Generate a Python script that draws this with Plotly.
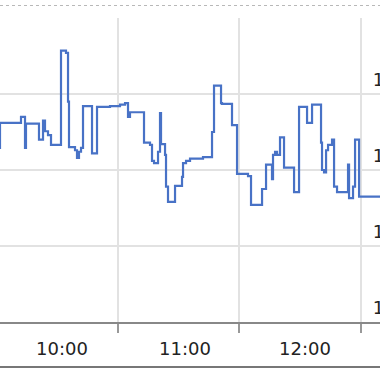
import plotly.graph_objects as go

DAY = "2024-01-01 "

times = [
    "09:59:31", "10:01:59", "10:12:21", "10:14:20", "10:14:49", "10:21:14", "10:23:13",
    "10:24:12", "10:25:41", "10:27:10", "10:32:06", "10:34:34", "10:35:34", "10:36:03",
    "10:39:01", "10:40:00", "10:40:59", "10:41:59", "10:42:58", "10:47:25", "10:49:53",
    "10:56:18", "11:01:14", "11:03:43", "11:05:11", "11:06:10", "11:13:05", "11:16:03",
    "11:17:02", "11:18:02", "11:20:00", "11:20:59", "11:21:29", "11:23:28", "11:23:57",
    "11:24:56", "11:28:24", "11:31:51", "11:32:21", "11:33:50", "11:35:48", "11:42:13",
    "11:46:40", "11:47:39", "11:51:07", "11:51:36", "11:56:32", "11:59:01", "12:04:26",
    "12:05:55", "12:11:22", "12:13:20", "12:16:17", "12:16:47", "12:17:47", "12:18:46",
    "12:20:14", "12:22:13", "12:27:10", "12:29:38", "12:33:35", "12:36:03", "12:40:29",
    "12:40:59", "12:41:58", "12:42:58", "12:43:57", "12:45:55", "12:46:55", "12:48:23",
    "12:53:49", "12:54:19", "12:56:17", "12:57:17", "12:59:16", "13:12:05",
]
values = [
    122.9, 126.2, 127.0, 122.9, 126.1, 124.0, 126.5,
    125.1, 124.6, 123.3, 135.7, 135.4, 129.0, 123.0,
    122.6, 121.6, 122.4, 122.9, 128.4, 122.2, 128.3,
    128.4, 128.6, 128.8, 127.0, 127.6, 123.6, 123.3,
    121.2, 120.9, 122.4, 127.5, 123.4, 122.0, 117.8,
    115.8, 117.9, 119.1, 120.9, 121.2, 121.5, 121.7,
    125.0, 131.1, 128.8, 128.7, 125.9, 119.5, 119.2,
    115.4, 117.5, 120.7, 118.8, 122.0, 122.4, 122.0,
    124.3, 120.3, 117.1, 128.3, 126.2, 128.6, 123.6,
    120.0, 119.7, 122.6, 123.3, 124.0, 117.8, 117.1,
    120.7, 116.3, 117.8, 124.0, 116.5, 116.5,
]

hour_ticks = ["10:00:00", "11:00:00", "12:00:00", "13:00:00"]
hour_label_pos = ["10:32:36", "11:33:20", "12:32:36"]
hour_labels = ["10:00", "11:00", "12:00"]
y_ticks = [100, 110, 120, 130, 140]
y_tick_text = ["100", "110", "120", "130", ""]
x_range = ["10:01:59", "13:09:36"]
y_range = [100, 140]

fig = go.Figure()
fig.add_trace(go.Scatter(
    x=[DAY + t for t in times], y=values, mode="lines",
    line=dict(color="#4872c6", width=2.2, shape="hv"),
    hoverinfo="skip", showlegend=False,
))
# invisible trace to activate the label axis
fig.add_trace(go.Scatter(
    x=[DAY + x_range[0]], y=[y_range[0]], xaxis="x2", mode="markers",
    marker=dict(opacity=0), hoverinfo="skip", showlegend=False,
))

xr = [DAY + x_range[0], DAY + x_range[1]]
fig.update_layout(
    width=380, height=372,
    margin=dict(l=0, r=0, t=18, b=50),
    paper_bgcolor="white", plot_bgcolor="white",
    font=dict(family="DejaVu Sans", size=18, color="#222222"),
    xaxis=dict(
        type="date", range=xr, automargin=False,
        tickvals=[DAY + t for t in hour_ticks],
        showticklabels=False,
        ticks="outside", ticklen=9, tickwidth=1.5, tickcolor="#999999",
        showgrid=True, gridcolor="#e2e2e2", gridwidth=1.5,
        showline=True, linecolor="#888888", linewidth=1.5,
        zeroline=False,
    ),
    xaxis2=dict(
        type="date", range=xr, automargin=False,
        overlaying="x", anchor="y", side="bottom",
        tickvals=[DAY + t for t in hour_label_pos], ticktext=hour_labels,
        ticks="outside", ticklen=10, tickcolor="rgba(0,0,0,0)",
        showgrid=False, showline=False, zeroline=False,
        tickfont=dict(family="DejaVu Sans", size=18, color="#222222"),
    ),
    yaxis=dict(
        range=y_range, automargin=False,
        tickvals=y_ticks, ticktext=y_tick_text,
        side="right", anchor="free", position=0.978,
        ticks="", showline=False, zeroline=False,
        ticklabelshift=-14,
        showgrid=True, gridcolor="#e2e2e2", gridwidth=1.5,
        tickfont=dict(family="DejaVu Sans", size=18, color="#222222"),
    ),
    shapes=[
        dict(type="line", xref="paper", yref="paper", x0=0, x1=1,
             y0=1 + 12.5 / 304, y1=1 + 12.5 / 304,
             line=dict(color="#b8b8b8", width=1, dash="dot")),
        dict(type="line", xref="paper", yref="paper", x0=0, x1=1,
             y0=-45.0 / 304, y1=-45.0 / 304,
             line=dict(color="#777777", width=2)),
    ],
)

fig.write_html("out.html")
